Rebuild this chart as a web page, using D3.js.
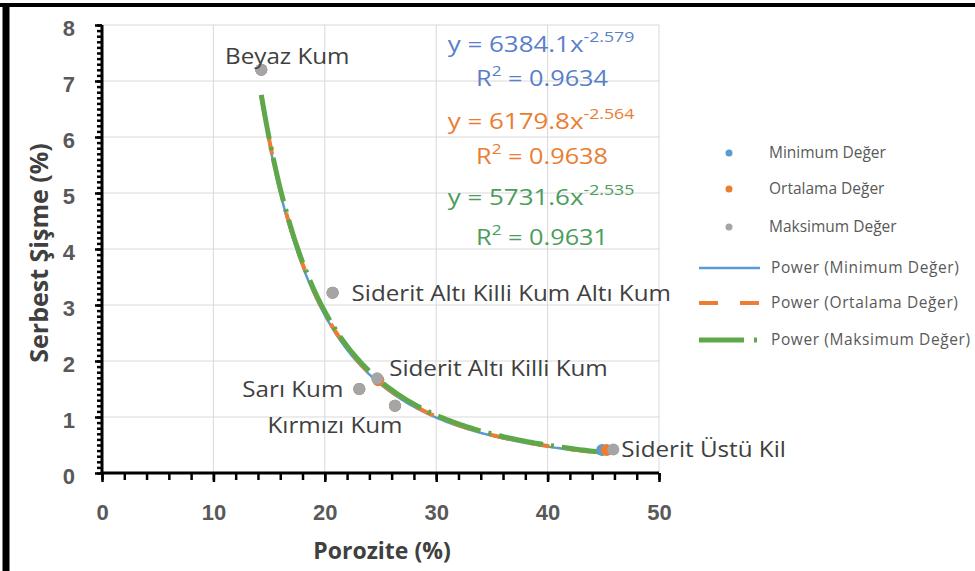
<!DOCTYPE html>
<html>
<head>
<meta charset="utf-8">
<script src="https://cdn.jsdelivr.net/npm/d3@7"></script>
<style>
  html, body { margin: 0; padding: 0; background: #fff; }
  svg { display: block; font-family: "Open Sans", Lato, sans-serif; }
</style>
</head>
<body>
<svg id="chart" width="975" height="571"></svg>
<script>
// Samples (labels for the Maksimum Değer points)
const samples = ["Beyaz Kum", "Siderit Altı Killi Kum Altı Kum", "Sarı Kum",
                 "Siderit Altı Killi Kum", "Kırmızı Kum", "Siderit Üstü Kil"];

// Porozite (%) / Serbest Şişme (%) per series
const minX = [14.3, 20.7, 23.1, 24.8, 26.3, 44.9];
const minY = [7.2, 3.22, 1.5, 1.66, 1.2, 0.41];
const avgX = [14.3, 20.7, 23.1, 24.8, 26.3, 45.3];
const avgY = [7.2, 3.22, 1.5, 1.66, 1.2, 0.41];
const maxX = [14.3, 20.7, 23.1, 24.7, 26.3, 45.9];
const maxY = [7.2, 3.22, 1.5, 1.69, 1.2, 0.42];

// Power trendline coefficients y = a * x^b and R²
const seriesNames = ["Minimum Değer", "Ortalama Değer", "Maksimum Değer"];
const powA = [6384.1, 6179.8, 5731.6];
const powB = [-2.579, -2.564, -2.535];
const rSq = ["0.9634", "0.9638", "0.9631"];

const xTicks = [0, 10, 20, 30, 40, 50];
const yTicks = [0, 1, 2, 3, 4, 5, 6, 7, 8];

const colors = ["#5b9bd5", "#ed7d31", "#a5a5a5"];
const trendColors = ["#5b9bd5", "#ed7d31", "#5fa84a"];
const eqColors = ["#5a7fc9", "#ea7d32", "#4a9d5b"];

const svg = d3.select("#chart");
const x = d3.scaleLinear().domain([0, 50]).range([102, 659]);
const y = d3.scaleLinear().domain([0, 8]).range([473, 25]);

// frame
svg.append("line").attr("x1", 0).attr("x2", 975).attr("y1", 5).attr("y2", 5)
  .attr("stroke", "#000").attr("stroke-width", 4);
svg.append("line").attr("x1", 6).attr("x2", 6).attr("y1", 3).attr("y2", 571)
  .attr("stroke", "#000").attr("stroke-width", 7);

// gridlines
const grid = svg.append("g").attr("stroke", "#d9d9d9").attr("stroke-width", 1);
grid.selectAll(".gx").data(xTicks.slice(1)).join("line")
  .attr("x1", d => x(d)).attr("x2", d => x(d)).attr("y1", y(8)).attr("y2", y(0));
grid.selectAll(".gy").data(yTicks.slice(1)).join("line")
  .attr("x1", x(0)).attr("x2", x(50)).attr("y1", d => y(d)).attr("y2", d => y(d));

// axes
function styleAxis(g) {
  g.select(".domain").remove();
  g.selectAll("line").attr("stroke", "#000").attr("stroke-width", 2.5);
}
svg.append("g").attr("transform", `translate(0,${y(0)})`)
  .call(d3.axisBottom(x).tickValues(d3.range(0, 50.01, 2)).tickSize(7).tickFormat(""))
  .call(styleAxis);
svg.append("g").attr("transform", `translate(0,${y(0)})`)
  .call(d3.axisBottom(x).tickValues(xTicks).tickSize(9).tickPadding(22))
  .call(styleAxis)
  .call(g => g.selectAll("text").attr("fill", "#595959").attr("font-size", 22)
    .attr("font-weight", 600));
svg.append("g").attr("transform", `translate(${x(0)},0)`)
  .call(d3.axisLeft(y).tickValues(d3.range(0, 80.5, 1).map(v => v / 10)).tickSize(5).tickFormat(""))
  .call(styleAxis);
svg.append("g").attr("transform", `translate(${x(0)},0)`)
  .call(d3.axisLeft(y).tickValues(yTicks).tickSize(7).tickPadding(20))
  .call(styleAxis)
  .call(g => g.selectAll("text").attr("fill", "#595959").attr("font-size", 22)
    .attr("font-weight", 600).attr("dy", "0.46em"));
svg.append("line").attr("x1", x(0)).attr("x2", x(50)).attr("y1", y(0)).attr("y2", y(0))
  .attr("stroke", "#000").attr("stroke-width", 3);
svg.append("line").attr("x1", x(0)).attr("x2", x(0)).attr("y1", y(8)).attr("y2", y(0))
  .attr("stroke", "#000").attr("stroke-width", 3);

// axis titles
svg.append("text").attr("x", 382).attr("y", 559).attr("text-anchor", "middle")
  .attr("font-size", 23).attr("font-weight", 700).attr("fill", "#404040").text("Porozite (%)");
svg.append("text").attr("transform", "translate(48,253) rotate(-90)").attr("text-anchor", "middle")
  .attr("font-size", 25).attr("font-weight", 700).attr("fill", "#404040").text("Serbest Şişme (%)");

// trendlines
const xsets = [minX, avgX, maxX];
const dashes = [null, "20 20", "45 8 3 8"];
const widths = [2.5, 4, 5];
xsets.forEach((xs, i) => {
  const [lo, hi] = d3.extent(xs);
  const pts = d3.range(lo, hi + 0.001, (hi - lo) / 200).map(v => [v, powA[i] * Math.pow(v, powB[i])]);
  svg.append("path").datum(pts)
    .attr("d", d3.line().x(d => x(d[0])).y(d => y(d[1])))
    .attr("fill", "none").attr("stroke", trendColors[i]).attr("stroke-width", widths[i])
    .attr("stroke-dasharray", dashes[i]);
});

// markers
const ysets = [minY, avgY, maxY];
xsets.forEach((xs, i) => {
  svg.append("g").selectAll("circle").data(xs.map((v, j) => [v, ysets[i][j]])).join("circle")
    .attr("cx", d => x(d[0])).attr("cy", d => y(d[1])).attr("r", 6)
    .attr("fill", colors[i]);
});

// data labels for Maksimum Değer (slightly widened type)
const labelPos = [
  { dx: 26, dy: -6, anchor: "middle" },
  { dx: 19, dy: 8, anchor: "start" },
  { dx: -16, dy: 8, anchor: "end" },
  { dx: 12, dy: -2, anchor: "start" },
  { dx: -60, dy: 27, anchor: "middle" },
  { dx: 8, dy: 8, anchor: "start" }
];
svg.append("g").selectAll("text").data(samples).join("text")
  .attr("transform", (d, j) =>
    `translate(${x(maxX[j]) + labelPos[j].dx},${y(maxY[j]) + labelPos[j].dy}) scale(1.1,1)`)
  .attr("text-anchor", (d, j) => labelPos[j].anchor)
  .attr("font-size", 22).attr("fill", "#404040").text(d => d);

// equations
const eqY = [52, 86, 129, 164, 205, 245];
powA.forEach((a, i) => {
  const t = svg.append("text").attr("transform", `translate(541,${eqY[i * 2]}) scale(1.18,1)`)
    .attr("text-anchor", "middle").attr("font-size", 22).attr("fill", eqColors[i]);
  t.append("tspan").text(`y = ${a.toFixed(1)}x`);
  t.append("tspan").attr("dy", -10).attr("font-size", 15).text(powB[i].toFixed(3));
  const r = svg.append("text").attr("transform", `translate(542,${eqY[i * 2 + 1]}) scale(1.15,1)`)
    .attr("text-anchor", "middle").attr("font-size", 22).attr("fill", eqColors[i]);
  r.append("tspan").text("R");
  r.append("tspan").attr("dy", -10).attr("font-size", 15).text("2");
  r.append("tspan").attr("dy", 10).text(` = ${rSq[i]}`);
});

// legend
const leg = svg.append("g").attr("font-size", 15.5).attr("fill", "#595959");
const legY = [153, 189, 227, 268, 303, 340];
seriesNames.forEach((n, i) => {
  leg.append("circle").attr("cx", 729).attr("cy", legY[i]).attr("r", 3.5).attr("fill", colors[i]);
  leg.append("text").attr("x", 769).attr("y", legY[i] + 5).text(n);
});
seriesNames.forEach((n, i) => {
  const ly = legY[i + 3];
  leg.append("line").attr("x1", 699).attr("x2", 760).attr("y1", ly).attr("y2", ly)
    .attr("stroke", trendColors[i]).attr("stroke-width", widths[i])
    .attr("stroke-dasharray", i === 1 ? "19 22" : (i === 2 ? "45 10 3 100" : null));
  leg.append("text").attr("x", 771).attr("y", ly + 5).attr("letter-spacing", 0.6).text(`Power (${n})`);
});
</script>
</body>
</html>
